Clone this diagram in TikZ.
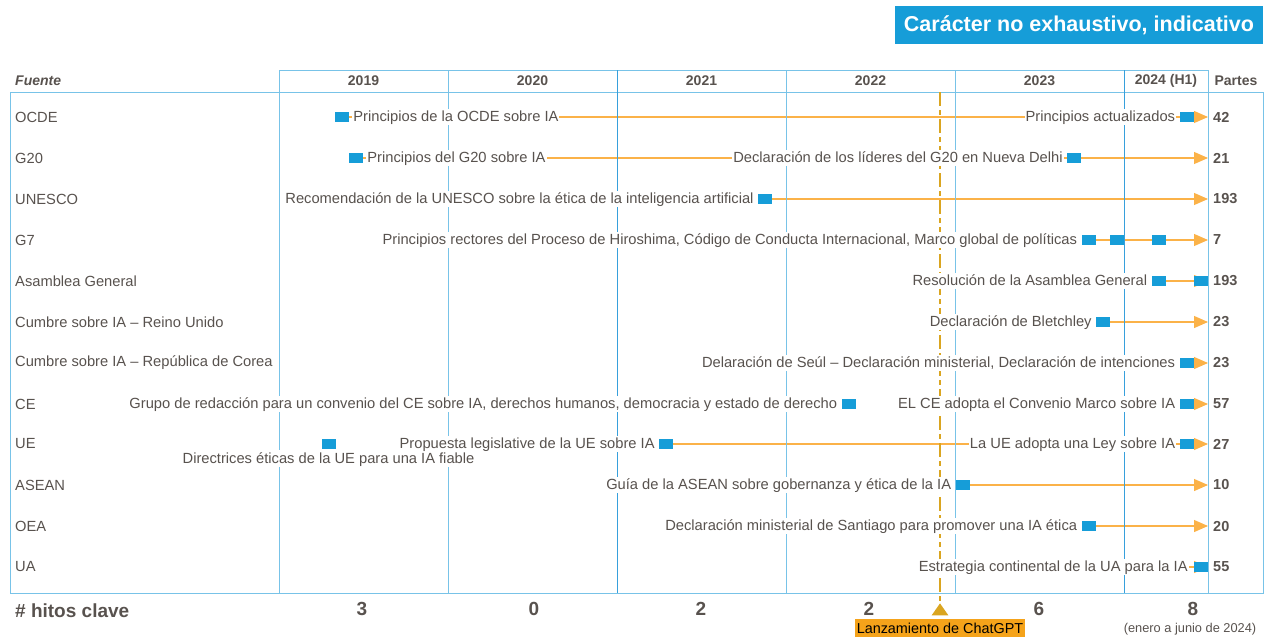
\documentclass[tikz,border=0pt]{standalone}
\usepackage{fontspec}
\setmainfont{Liberation Sans}
\usetikzlibrary{positioning,arrows.meta,shapes.geometric,backgrounds}
\definecolor{hblue}{RGB}{22,157,216}
\definecolor{tgray}{RGB}{88,82,78}
\definecolor{lorange}{RGB}{251,178,72}
\definecolor{gold}{RGB}{218,165,32}
\definecolor{chatorange}{RGB}{245,163,26}
\definecolor{gridblue}{RGB}{120,195,232}
\definecolor{yearblue}{RGB}{55,160,220}

\tikzset{
  hito/.style={fill=hblue, minimum width=14pt, minimum height=10pt, inner sep=0pt},
  lbl/.style={fill=white, text=tgray, inner xsep=1pt, inner ysep=1pt, text height=12pt, text depth=2.5pt,
    font=\fontsize{14.7}{17}\selectfont},
  fuente/.style={text=tgray, anchor=west, inner sep=0pt, font=\fontsize{14.7}{17}\selectfont},
  flecha/.style={draw=lorange, line width=1.1pt, -{Triangle[length=14pt,width=12pt]}},
  parte/.style={text=tgray, anchor=west, inner xsep=5pt, font=\bfseries\fontsize{14.5}{17}\selectfont},
  anio/.style={text=tgray, font=\bfseries\fontsize{14}{16}\selectfont},
  cuenta/.style={text=tgray, font=\bfseries\fontsize{19}{22}\selectfont},
}

\begin{document}
\begin{tikzpicture}[x=1pt,y=-1pt]
  \useasboundingbox (0,0) rectangle (1265,637);
  
  % draw title
  \node[fill=hblue, text=white, font=\bfseries\fontsize{21.5}{25}\selectfont,
        minimum width=368pt, minimum height=38pt, inner sep=0pt] (titulo) at (1079,25) {Carácter no exhaustivo, indicativo};
  
  % draw header
  \node[anio, font=\bfseries\itshape\fontsize{14}{16}\selectfont, anchor=west, inner sep=0pt] (fuente) at (15,81) {Fuente};
  \node[anio] (a2019) at (363.5,81) {2019};
  \node[anio] (a2020) at (532.5,81) {2020};
  \node[anio] (a2021) at (701.5,81) {2021};
  \node[anio] (a2022) at (870.5,81) {2022};
  \node[anio] (a2023) at (1039.5,81) {2023};
  \node[anio] (a2024) at (1166,81) {2024 (H1)};
  \node[anio] (partes) at (1236,81) {Partes};
  
  % draw boxes and year lines
  \draw[gridblue, line width=1pt] (279,70) rectangle (1208,92);
  \draw[gridblue, line width=1pt] (10,92) rectangle (1263,593);
  \foreach \x in {279,448,786,955,1208}
    \draw[gridblue, line width=1pt] (\x,70) -- (\x,593);
  \foreach \x in {617,1124}
    \draw[yearblue, line width=.9pt] (\x,70) -- (\x,593);
  
  % draw ChatGPT launch
  \node[isosceles triangle, isosceles triangle apex angle=70, shape border rotate=90, fill=gold,
        inner sep=0pt, minimum height=12pt, minimum width=14pt] (lanz) at (940,611) {};
  \draw[gold, line width=1.6pt, dash pattern=on 14pt off 4pt on 5pt off 4pt] (940,92) -- (lanz.apex);
  \node[fill=chatorange, text=black, font=\fontsize{14.4}{16}\selectfont, minimum width=170pt,
        minimum height=18pt, inner sep=0pt] (lanzt) at (940,628) {Lanzamiento de ChatGPT};
  
  % draw sources and parties
  \foreach \nombre/\n/\y [count=\i] in {OCDE/42/117, G20/21/158, UNESCO/193/199, G7/7/240,
      Asamblea General/193/281, Cumbre sobre IA – Reino Unido/23/322,
      Cumbre sobre IA – República de Corea/23/363, CE/57/404, UE/27/444,
      ASEAN/10/485, OEA/20/526, UA/55/567}{
    \node[fuente] (src\i) at (15,\y) {\nombre};
    \node[parte] (p\i) at (1208,\y) {\n};
  }
  
  % OCDE
  \node[hito] (ocde1) at (342,117) {};
  \node[lbl, right=3pt of ocde1] (ocde1t) {Principios de la OCDE sobre IA};
  \node[hito] (ocde2) at (1186.5,117) {};
  \node[lbl, left=3pt of ocde2] (ocde2t) {Principios actualizados};
  % G20
  \node[hito] (g201) at (356,158) {};
  \node[lbl, right=3pt of g201] (g201t) {Principios del G20 sobre IA};
  \node[hito] (g202) at (1074,158) {};
  \node[lbl, left=3pt of g202] (g202t) {Declaración de los líderes del G20 en Nueva Delhi};
  % UNESCO
  \node[hito] (unesco) at (765,199) {};
  \node[lbl, left=3pt of unesco] (unescot) {Recomendación de la UNESCO sobre la ética de la inteligencia artificial};
  % G7
  \node[hito] (g7a) at (1088.5,240) {};
  \node[hito] (g7b) at (1116.5,240) {};
  \node[hito] (g7c) at (1158.5,240) {};
  \node[lbl, left=3pt of g7a] (g7t) {Principios rectores del Proceso de Hiroshima, Código de Conducta Internacional, Marco global de políticas};
  % Asamblea General
  \node[hito] (ag1) at (1158.5,281) {};
  \node[hito] (ag2) at (1201,281) {};
  \node[lbl, left=3pt of ag1] (ag1t) {Resolución de la Asamblea General};
  % Cumbre Reino Unido
  \node[hito] (ru) at (1103,322) {};
  \node[lbl, left=3pt of ru] (rut) {Declaración de Bletchley};
  % Cumbre Corea
  \node[hito] (cor) at (1186.5,363) {};
  \node[lbl, left=3pt of cor] (cort) {Delaración de Seúl – Declaración ministerial, Declaración de intenciones};
  % CE
  \node[hito] (ce1) at (848.5,404) {};
  \node[lbl, left=3pt of ce1] (ce1t) {Grupo de redacción para un convenio del CE sobre IA, derechos humanos, democracia y estado de derecho};
  \node[hito] (ce2) at (1186.5,404) {};
  \node[lbl, left=3pt of ce2] (ce2t) {EL CE adopta el Convenio Marco sobre IA};
  % UE
  \node[hito] (ue1) at (328.5,444) {};
  \node[lbl, below=1pt of ue1] (ue1t) {Directrices éticas de la UE para una IA fiable};
  \node[hito] (ue2) at (666,444) {};
  \node[lbl, left=3pt of ue2] (ue2t) {Propuesta legislative de la UE sobre IA};
  \node[hito] (ue3) at (1186.5,444) {};
  \node[lbl, left=3pt of ue3] (ue3t) {La UE adopta una Ley sobre IA};
  % ASEAN
  \node[hito] (asean) at (962.5,485) {};
  \node[lbl, left=3pt of asean] (aseant) {Guía de la ASEAN sobre gobernanza y ética de la IA};
  % OEA
  \node[hito] (oea) at (1088.5,526) {};
  \node[lbl, left=3pt of oea] (oeat) {Declaración ministerial de Santiago para promover una IA ética};
  % UA
  \node[hito] (ua) at (1201,567) {};
  \node[lbl, left=5pt of ua] (uat) {Estrategia continental de la UA para la IA};
  
  % draw arrows
  \begin{scope}[on background layer]
    \draw[flecha] (ocde1) -- (p1.west);
    \draw[flecha] (g201) -- (p2.west);
    \draw[flecha] (unesco) -- (p3.west);
    \draw[flecha] (g7a) -- (p4.west);
    \draw[flecha] (ag1) -- (p5.west);
    \draw[flecha] (ru) -- (p6.west);
    \draw[flecha] (cor) -- (p7.west);
    \draw[flecha] (ce2) -- (p8.west);
    \draw[flecha] (ue2) -- (p9.west);
    \draw[flecha] (asean) -- (p10.west);
    \draw[flecha] (oea) -- (p11.west);
    \draw[flecha] (uat) -- (p12.west);
  \end{scope}
  
  % draw key milestones
  \node[cuenta, anchor=west, inner sep=0pt] (hitos) at (15,611) {\# hitos clave};
  \node[cuenta] (c2019) at (362,609) {3};
  \node[cuenta] (c2020) at (534,609) {0};
  \node[cuenta] (c2021) at (701,609) {2};
  \node[cuenta] (c2022) at (869,609) {2};
  \node[cuenta] (c2023) at (1039,609) {6};
  \node[cuenta] (c2024) at (1193,609) {8};
  \node[text=tgray, font=\fontsize{12.8}{15}\selectfont] (periodo) at (1190,629) {(enero a junio de 2024)};
\end{tikzpicture}
\end{document}
